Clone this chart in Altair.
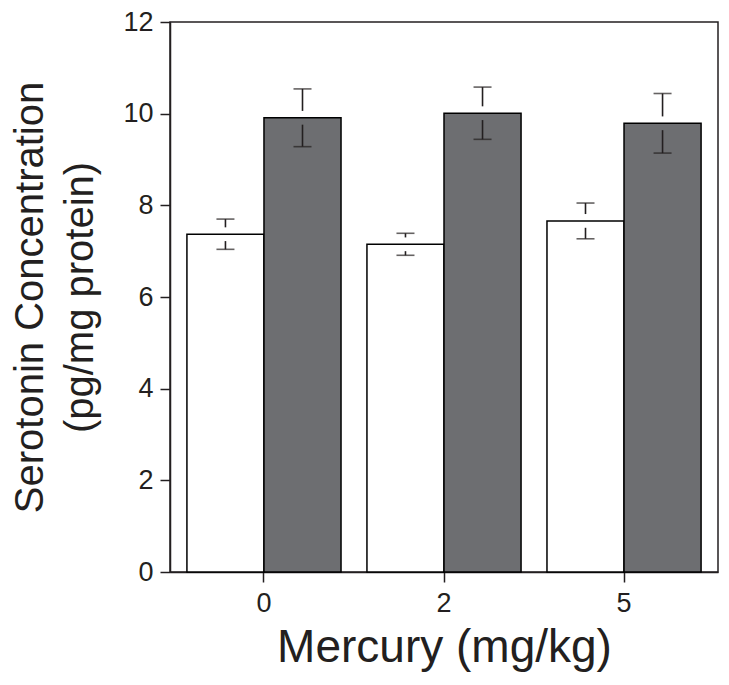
import altair as alt
import pandas as pd

mercury = ["0", "0", "2", "2", "5", "5"]
group = ["Group 1", "Group 2", "Group 1", "Group 2", "Group 1", "Group 2"]
means = [7.37, 9.91, 7.15, 10.01, 7.66, 9.79]
errs = [0.33, 0.63, 0.24, 0.57, 0.39, 0.65]
y_ticks = [0, 2, 4, 6, 8, 10, 12]

df = pd.DataFrame({"mercury": mercury, "group": group, "mean": means, "err": errs})

FONT = "Liberation Sans"
INK = "#231f20"
GAP = 0.15

x = alt.X("mercury:N", sort=["0", "2", "5"],
          scale=alt.Scale(paddingInner=0.144, paddingOuter=0.094),
          axis=alt.Axis(title="Mercury (mg/kg)", labelAngle=0, labelFontSize=27,
                        titleFontSize=46, tickSize=10, labelPadding=8,
                        titlePadding=9, titleFontWeight="normal"))
xo = alt.XOffset("group:N", scale=alt.Scale(paddingInner=0, paddingOuter=0))

base = alt.Chart(df).transform_calculate(
    up0="datum.mean + " + str(GAP),
    up1="datum.mean + datum.err",
    lo0="datum.mean - " + str(GAP),
    lo1="datum.mean - datum.err",
)

bars = base.mark_bar(stroke="black", strokeWidth=1.5).encode(
    x=x, xOffset=xo,
    y=alt.Y("mean:Q", scale=alt.Scale(domain=[0, 12], nice=False),
            axis=alt.Axis(values=y_ticks, title=["Serotonin Concentration", "(pg/mg protein)"],
                          labelFontSize=27, titleFontSize=40, tickSize=10, labelPadding=7,
                          titlePadding=22, titleLineHeight=50, titleFontWeight="normal",
                          grid=False)),
    color=alt.Color("group:N", scale=alt.Scale(range=["white", "#6d6e71"]), legend=None),
)

rule_up = base.mark_rule(color=INK, strokeWidth=1.6).encode(
    x=x, xOffset=xo, y="up0:Q", y2="up1:Q")
rule_lo = base.mark_rule(color=INK, strokeWidth=1.6).encode(
    x=x, xOffset=xo, y="lo0:Q", y2="lo1:Q")
cap_up = base.mark_tick(color=INK, thickness=1.6, size=18, orient="horizontal").encode(
    x=x, xOffset=xo, y="up1:Q")
cap_lo = base.mark_tick(color=INK, thickness=1.6, size=18, orient="horizontal").encode(
    x=x, xOffset=xo, y="lo1:Q")

chart = alt.layer(bars, rule_up, rule_lo, cap_up, cap_lo).properties(
    width=548, height=550,
    background="white",
    autosize=alt.AutoSizeParams(type="none"),
    padding={"left": 162, "top": 14, "right": 3, "bottom": 105},
).configure_view(stroke=INK, strokeWidth=1.5).configure_axis(
    domainColor=INK, tickColor=INK, labelColor=INK, titleColor=INK,
    labelFont=FONT, titleFont=FONT, domainWidth=1.5, tickWidth=1.5,
)

chart.save("out.html", embed_options={"renderer": "svg", "actions": False})
